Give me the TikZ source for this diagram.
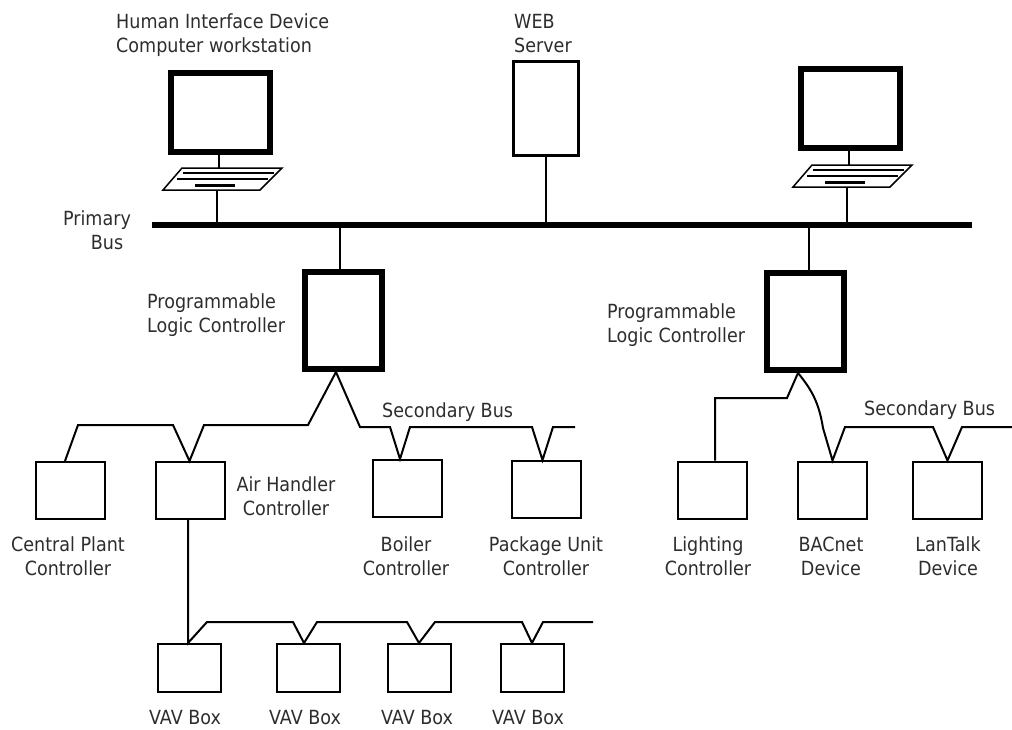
\documentclass[tikz,border=0pt]{standalone}
\usepackage{fontspec}
\setmainfont[FakeStretch=0.9]{DejaVu Sans}
\definecolor{txt}{RGB}{45,45,45}
\tikzset{
  keyboard/.pic={
    \draw[line width=1.5pt, line join=miter] (0,0) -- (100,0) -- (78,22) -- (-19,22) -- cycle;
    \draw[line width=1.5pt] (1,5) -- (92,5);
    \draw[line width=1.5pt] (-5,11) -- (86,11);
    \draw[line width=3pt] (13,17) -- (53,17);
    \coordinate (-top) at (37,0);
    \coordinate (-bot) at (35,22);
  }
}
\begin{document}
\begin{tikzpicture}[x=1pt,y=-1pt,
  lbl/.style={font=\fontsize{19.5}{24}\selectfont, text=txt, inner sep=0pt, align=center, anchor=base},
  lblL/.style={lbl, align=left, anchor=base west},
  wire/.style={line width=2pt, line join=miter},
  busline/.style={line width=6pt},
  monitor/.style={draw, line width=6pt, inner sep=0pt, minimum width=99pt, minimum height=79pt},
  server/.style={draw, line width=3pt, inner sep=0pt, minimum width=65pt, minimum height=94pt},
  plc/.style={draw, line width=6pt, inner sep=0pt, minimum width=77pt, minimum height=97pt},
  dev/.style={draw, line width=2pt, inner sep=0pt, minimum width=69pt, minimum height=57pt},
  vav/.style={draw, line width=2pt, inner sep=0pt, minimum width=63pt, minimum height=48pt}]
\useasboundingbox (0,0) rectangle (1012,729);

% equipment
\node[monitor] (mon1) at (220.5,112.5) {};
\node[monitor] (mon2) at (850,108.5) {};
\node[server] (web) at (546,108.5) {};
\node[plc] (plc1) at (343,320.5) {};
\node[plc] (plc2) at (805,321.5) {};
\node[dev] (cp) at (70,490.5) {};
\node[dev] (ah) at (190.5,490.5) {};
\node[dev] (boil) at (407,488.5) {};
\node[dev] (pkg) at (546.5,489.5) {};
\node[dev] (light) at (712,490) {};
\node[dev] (bac) at (832.5,490) {};
\node[dev] (lan) at (947.5,490) {};
\node[vav] (v1) at (189.5,668) {};
\node[vav] (v2) at (308,668) {};
\node[vav] (v3) at (419,668) {};
\node[vav] (v4) at (532,668) {};

\pic (kb1) at (182,168) {keyboard};
\pic (kb2) at (812,165) {keyboard};

% primary bus
\coordinate (busL) at (152,225);
\coordinate (busR) at (972,225);
\draw[busline] (busL) -- (busR);

% stems
\draw[wire] (kb1-top) -- (kb1-top |- mon1.south);
\draw[wire] (kb1-bot) -- (kb1-bot |- busL);
\draw[wire] (kb2-top) -- (kb2-top |- mon2.south);
\draw[wire] (kb2-bot) -- (kb2-bot |- busL);
\draw[wire] (web.south) -- (web.south |- busL);
\draw[wire] ([xshift=-3pt]plc1.north) -- ([xshift=-3pt]plc1.north |- busL);
\draw[wire] ([xshift=4pt]plc2.north) -- ([xshift=4pt]plc2.north |- busL);

% secondary bus, left PLC
\coordinate (sb1end) at (575,427);
\draw[wire] ([xshift=-5pt]cp.north) -- (78,425) -- (173,425) -- ([xshift=-1pt]ah.north)
  -- (204,425) -- (308,425) -- ([xshift=-7pt]plc1.south);
\draw[wire] ([xshift=-7pt]plc1.south) -- (360,427) -- (390,427) -- ([xshift=-7pt]boil.north)
  -- (410,427) -- (532,427) -- ([xshift=-4pt]pkg.north) -- (553,427) -- (sb1end);

% secondary bus, right PLC
\coordinate (sb2end) at (1012,427);
\draw[wire] ([xshift=3pt]light.north) -- (715,398) -- (787,398) -- ([xshift=-7pt]plc2.south);
\draw[wire] ([xshift=-7pt]plc2.south) .. controls (812,390) and (819,403) .. (823,428)
  -- (bac.north) -- (845,427) -- (933,427) -- (lan.north) -- (962,427) -- (sb2end);

% VAV bus
\coordinate (vavend) at (593,622);
\draw[wire] ([xshift=-2.5pt]ah.south) -- ([xshift=-1.5pt]v1.north) -- (207,622) -- (293,622)
  -- ([xshift=-4pt]v2.north) -- (317,622) -- (407,622) -- (v3.north) -- (435,622)
  -- (522,622) -- (v4.north) -- (543,622) -- (vavend);

% labels (base anchor = baseline of the last line)
\node[lblL] (hidlbl) at (116,52) {Human Interface Device\\Computer workstation};
\node[lblL] (weblbl) at (514,52) {WEB\\Server};
\node[lbl] (buslbl) at (97,249) {Primary\\\hspace*{20pt}Bus};
\node[lblL] (plc1lbl) at (147,332) {Programmable\\Logic Controller};
\node[lblL] (plc2lbl) at (607,342) {Programmable\\Logic Controller};
\node[lblL] (sb1lbl) at (382,417) {Secondary Bus};
\node[lblL] (sb2lbl) at (864,415) {Secondary Bus};
\node[lbl] (ahlbl) at (286,515) {Air Handler\\Controller};
\node[lbl] (cplbl) at (68,575) {Central Plant\\Controller};
\node[lbl] (boillbl) at (406,575) {Boiler\\Controller};
\node[lbl] (pkglbl) at (546,575) {Package Unit\\Controller};
\node[lbl] (lightlbl) at (708,575) {Lighting\\Controller};
\node[lbl] (baclbl) at (831,575) {BACnet\\Device};
\node[lbl] (lanlbl) at (948,575) {LanTalk\\Device};
\node[lbl] (v1lbl) at (185,724) {VAV Box};
\node[lbl] (v2lbl) at (305,724) {VAV Box};
\node[lbl] (v3lbl) at (417,724) {VAV Box};
\node[lbl] (v4lbl) at (528,724) {VAV Box};
\end{tikzpicture}
\end{document}
